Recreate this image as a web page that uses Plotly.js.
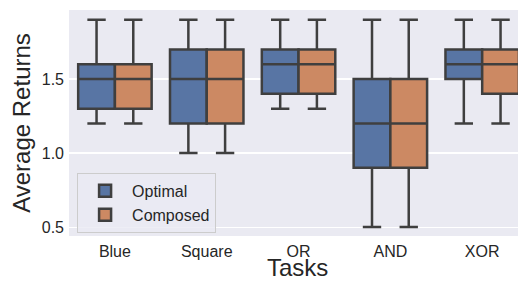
<!DOCTYPE html>
<html>
<head>
<meta charset="utf-8">
<script src="https://cdn.plot.ly/plotly-3.0.1.min.js"></script>
<style>html,body{margin:0;padding:0;background:#fff;}#chart{width:518px;height:283px;}</style>
</head>
<body>
<div id="chart"></div>
<script>
const tasks = ["Blue", "Square", "OR", "AND", "XOR"];

const optimalLow = [1.2, 1.0, 1.3, 0.5, 1.2];
const optimalQ1 = [1.3, 1.2, 1.4, 0.9, 1.5];
const optimalMedian = [1.5, 1.5, 1.6, 1.2, 1.6];
const optimalQ3 = [1.6, 1.7, 1.7, 1.5, 1.7];
const optimalHigh = [1.9, 1.9, 1.9, 1.9, 1.9];

const composedLow = [1.2, 1.0, 1.3, 0.5, 1.2];
const composedQ1 = [1.3, 1.2, 1.4, 0.9, 1.4];
const composedMedian = [1.5, 1.5, 1.6, 1.2, 1.6];
const composedQ3 = [1.6, 1.7, 1.7, 1.5, 1.7];
const composedHigh = [1.9, 1.9, 1.9, 1.9, 1.9];

const font = "Liberation Sans, Arial, sans-serif";
const lineColor = "#3f3f3f";

function boxTrace(name, color, low, q1, med, q3, high) {
  return {
    type: "box", name: name, x: tasks,
    lowerfence: low, q1: q1, median: med, q3: q3, upperfence: high,
    boxpoints: false, fillcolor: color,
    line: {color: lineColor, width: 2.5},
    whiskerwidth: 0.5, hoverinfo: "skip"
  };
}

const data = [
  boxTrace("Optimal", "#5875a4", optimalLow, optimalQ1, optimalMedian, optimalQ3, optimalHigh),
  boxTrace("Composed", "#cc8963", composedLow, composedQ1, composedMedian, composedQ3, composedHigh)
];

const layout = {
  width: 518, height: 283,
  margin: {l: 69, r: 0, t: 10, b: 47},
  paper_bgcolor: "#ffffff", plot_bgcolor: "#eaeaf2",
  boxmode: "group", boxgap: 0.2, boxgroupgap: 0,
  font: {family: font, color: "#262626"},
  xaxis: {
    type: "category", range: [-0.5, 4.39],
    showgrid: false, zeroline: false, showline: false, ticks: "",
    ticklabelstandoff: 4,
    tickfont: {size: 16, family: font, color: "#262626"}
  },
  yaxis: {
    range: [0.44, 1.966], tickvals: [0.5, 1.0, 1.5], ticktext: ["0.5", "1.0", "1.5"],
    showgrid: true, gridcolor: "#ffffff", gridwidth: 1.2, zeroline: false, showline: false, ticks: "",
    ticklabelstandoff: 4,
    tickfont: {size: 16, family: font, color: "#262626"},
    title: {text: "Average Returns", font: {size: 24, family: font, color: "#262626"}, standoff: 4}
  },
  annotations: [{
    text: "Tasks", xref: "paper", yref: "paper", x: 0.51, y: -0.208,
    xanchor: "center", yanchor: "bottom", showarrow: false,
    font: {size: 24, family: font, color: "#262626"}
  }],
  legend: {
    x: 0.018, y: 0.279, xanchor: "left", yanchor: "top",
    bgcolor: "rgba(234,234,242,0.8)", bordercolor: "#cccccc", borderwidth: 1,
    itemwidth: 44, tracegroupgap: 0,
    font: {size: 16, family: font, color: "#262626"}
  },
  showlegend: true
};

Plotly.newPlot("chart", data, layout, {displayModeBar: false, staticPlot: true});
</script>
</body>
</html>
